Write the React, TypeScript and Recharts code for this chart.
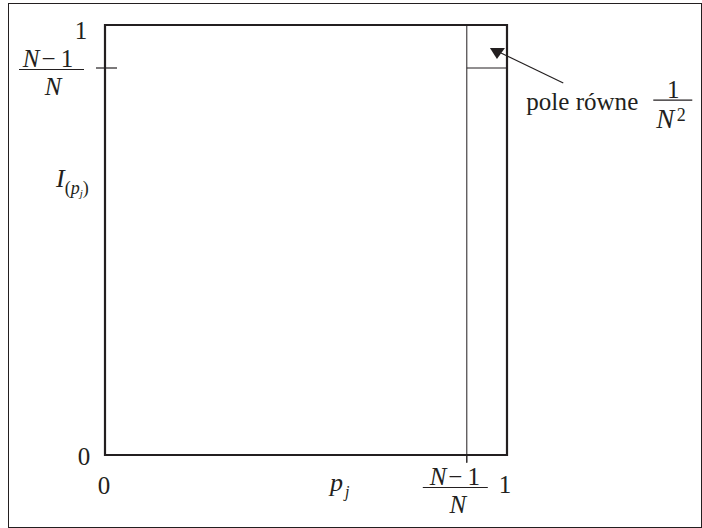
import { ComposedChart, XAxis, YAxis, Line, ReferenceArea, ReferenceLine, ReferenceDot } from "recharts";

const FONT = "Liberation Serif, Times New Roman, serif";
const INK = "#231f20";
const FS = 25;

// (N-1)/N drawn for N = 10
const split = 0.9;
const xTicks = [0, split, 1];
const yTicks = [0, split, 1];

// small square of area 1/N^2 in the top right corner
const cornerLine = [
  { x: split, y: 1 },
  { x: split, y: split },
  { x: 1, y: split },
];

// annotation arrow: start (near the text) and tip
const arrowFrom = { x: 1.14, y: 0.865 };
const arrowTo = { x: 0.985, y: 0.935 };
const arrowTip = { x: 0.975, y: 0.921 };

// (N-1)/N as one text element: numerator and denominator are two chunks
const Frac = ({ cx, top, barLeft, barRight, denomDx = 0 }: any) => (
  <g fontFamily={FONT} fontSize={FS} fill={INK}>
    <text textAnchor="middle">
      <tspan x={cx} y={top - 1} fontStyle="italic">N</tspan>
      <tspan dx={2}>−</tspan>
      <tspan dx={5}>1</tspan>
      <tspan x={cx + denomDx} y={top + 27} fontStyle="italic">N</tspan>
    </text>
    <line x1={barLeft} x2={barRight} y1={top + 1.5} y2={top + 1.5} stroke={INK} strokeWidth={1.2} />
  </g>
);

const XTick = ({ x, y, payload }: any) => {
  const v = payload.value;
  if (v === 0)
    return <text x={x - 1} y={y + 39} textAnchor="middle" fontFamily={FONT} fontSize={FS} fill={INK}>0</text>;
  if (v === 1)
    return <text x={x - 2} y={y + 38} textAnchor="middle" fontFamily={FONT} fontSize={FS} fill={INK}>1</text>;
  return (
    <g>
      <line x1={x} x2={x} y1={y} y2={y + 8} stroke={INK} strokeWidth={1} />
      <Frac cx={x - 12} top={y + 31} barLeft={x - 44} barRight={x + 21} denomDx={3} />
    </g>
  );
};

const YTick = ({ x, y, payload }: any) => {
  const v = payload.value;
  if (v === 0)
    return <text x={x - 21} y={y + 10} textAnchor="middle" fontFamily={FONT} fontSize={FS} fill={INK}>0</text>;
  if (v === 1)
    return <text x={x - 24} y={y + 14} textAnchor="middle" fontFamily={FONT} fontSize={FS} fill={INK}>1</text>;
  return (
    <g>
      <line x1={x - 9} x2={x + 12} y1={y} y2={y} stroke={INK} strokeWidth={1.2} />
      <Frac cx={x - 57} top={y} barLeft={x - 86} barRight={x - 21} denomDx={5} />
    </g>
  );
};

const XLabel = ({ viewBox }: any) => (
  <text x={viewBox.x + 225} y={viewBox.y + 36} fontFamily={FONT} fontSize={FS + 1} fill={INK} fontStyle="italic">
    p<tspan fontSize={16} dy={6} dx={2}>j</tspan>
  </text>
);

const YLabel = ({ viewBox }: any) => (
  <text x={56} y={viewBox.y + 162} fontFamily={FONT} fontSize={FS + 1} fill={INK} fontStyle="italic">
    I
    <tspan fontStyle="normal" fontSize={18} dy={7}>(</tspan>
    <tspan fontSize={18}>p</tspan>
    <tspan fontSize={11} dy={3}>j</tspan>
    <tspan fontStyle="normal" fontSize={18} dy={-3}>)</tspan>
  </text>
);

const ArrowHead = ({ cx, cy }: any) => (
  <polygon points={`${cx - 7},${cy - 11} ${cx + 8},${cy - 11} ${cx},${cy}`} fill={INK} />
);

const Note = ({ cx, cy }: any) => (
  <g fontFamily={FONT} fontSize={FS} fill={INK}>
    <text x={cx - 37} y={cy + 27} textLength={112} lengthAdjust="spacingAndGlyphs">pole równe</text>
    <text textAnchor="middle">
      <tspan x={cx + 110} y={cy + 15}>1</tspan>
      <tspan x={cx + 102} y={cy + 45} fontStyle="italic" fontSize={FS + 2}>N</tspan>
      <tspan x={cx + 118} y={cy + 38} fontSize={18}>2</tspan>
    </text>
    <line x1={cx + 90} x2={cx + 129} y1={cy + 17} y2={cy + 17} stroke={INK} strokeWidth={1.2} />
  </g>
);

export default function App() {
  return (
    <div style={{ position: "fixed", left: 0, top: 0, width: 702, height: 528, background: "#fff" }}>
      <div
        style={{
          position: "absolute",
          left: 8,
          top: 3,
          width: 694,
          height: 525,
          border: `1px solid ${INK}`,
          boxSizing: "border-box",
        }}
      />
      <div style={{ position: "absolute", left: 0, top: 0 }}>
        <ComposedChart width={702} height={528} data={cornerLine} margin={{ top: 25, right: 195, bottom: 43, left: 45 }}>
          <XAxis
            dataKey="x"
            type="number"
            domain={[0, 1]}
            ticks={xTicks}
            axisLine={false}
            tickLine={false}
            tickSize={0}
            tickMargin={0}
            height={30}
            tick={<XTick />}
            interval={0}
            label={{ content: <XLabel /> }}
          />
          <YAxis
            type="number"
            domain={[0, 1]}
            ticks={yTicks}
            axisLine={false}
            tickLine={false}
            tickSize={0}
            tickMargin={0}
            width={60}
            tick={<YTick />}
            interval={0}
            label={{ content: <YLabel /> }}
          />
          <ReferenceArea x1={0} x2={1} y1={0} y2={1} fill="none" stroke={INK} strokeWidth={2.2} />
          <ReferenceLine
            segment={[{ x: split, y: 0 }, { x: split, y: -0.017 }]}
            stroke={INK}
            strokeWidth={1}
            ifOverflow="visible"
          />
          <Line
            dataKey="y"
            type="linear"
            stroke={INK}
            strokeWidth={1}
            dot={false}
            activeDot={false}
            isAnimationActive={false}
          />
          <ReferenceLine
            segment={[{ x: split, y: 0 }, { x: split, y: split }]}
            stroke={INK}
            strokeWidth={1}
            ifOverflow="visible"
          />
          <ReferenceLine segment={[arrowFrom, arrowTo]} stroke={INK} strokeWidth={1.2} ifOverflow="visible" />
          <ReferenceDot x={arrowTip.x} y={arrowTip.y} r={0} ifOverflow="visible" shape={<ArrowHead />} />
          <ReferenceDot x={arrowFrom.x} y={arrowFrom.y} r={0} ifOverflow="visible" shape={<Note />} />
        </ComposedChart>
      </div>
    </div>
  );
}
